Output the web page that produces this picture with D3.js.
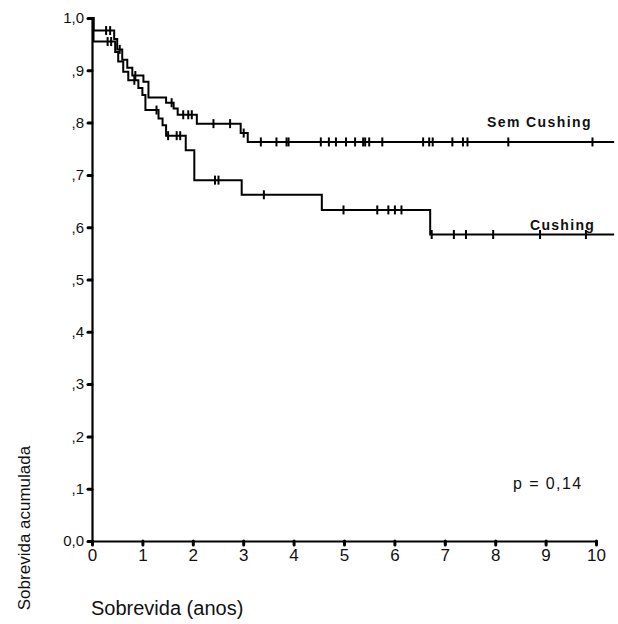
<!DOCTYPE html>
<html>
<head>
<meta charset="utf-8">
<script src="https://cdn.jsdelivr.net/npm/d3@7"></script>
<style>
  html, body { margin: 0; padding: 0; background: #fff; }
  svg { display: block; font-family: Arial, "Liberation Sans", sans-serif; }
</style>
</head>
<body>
<svg id="chart" width="618" height="624"></svg>
<script>
// ---- data ----
const xTickValues = [0, 1, 2, 3, 4, 5, 6, 7, 8, 9, 10];
const xTickLabels = ["0", "1", "2", "3", "4", "5", "6", "7", "8", "9", "10"];
const yTickValues = [0, 0.1, 0.2, 0.3, 0.4, 0.5, 0.6, 0.7, 0.8, 0.9, 1.0];
const yTickLabels = ["0,0", ",1", ",2", ",3", ",4", ",5", ",6", ",7", ",8", ",9", "1,0"];

const followUpEnd = 10.36;

// Cushing group: step times (years) and cumulative survival after each step
const cushingTimes = [0, 0.03, 0.46, 0.52, 0.62, 0.72, 0.92, 1.00, 1.06, 1.32, 1.40, 1.47, 1.86, 2.03, 2.97, 4.56, 6.71];
const cushingSurv  = [1.0, 0.955, 0.935, 0.917, 0.897, 0.881, 0.866, 0.853, 0.824, 0.808, 0.795, 0.775, 0.747, 0.690, 0.662, 0.633, 0.586];
const cushingCensor = [0.31, 0.38, 0.84, 1.28, 1.51, 1.68, 1.75, 2.44, 2.51, 3.41, 4.99, 5.66, 5.88, 6.01, 6.14, 6.74, 7.18, 7.42, 7.96, 8.89, 9.80];

// Sem Cushing group
const semTimes = [0, 0.03, 0.44, 0.50, 0.60, 0.70, 0.80, 1.02, 1.12, 1.47, 1.62, 1.70, 2.08, 2.95, 3.09];
const semSurv  = [1.0, 0.976, 0.960, 0.940, 0.920, 0.905, 0.890, 0.878, 0.848, 0.838, 0.827, 0.815, 0.798, 0.780, 0.763];
const semCensor = [0.28, 0.36, 0.55, 0.86, 1.58, 1.81, 1.91, 1.98, 2.41, 2.74, 3.01, 3.35, 3.66, 3.86, 3.90, 4.54, 4.70, 4.84, 5.04, 5.22, 5.38, 5.42, 5.50, 5.76, 6.57, 6.69, 6.76, 7.15, 7.36, 7.45, 8.26, 9.93];

const groupLabels = ["Sem Cushing", "Cushing"];
const pValueText = "p = 0,14";
const xTitle = "Sobrevida (anos)";
const yTitle = "Sobrevida acumulada";

// ---- layout ----
const svg = d3.select("#chart");
const x = d3.scaleLinear().domain([0, 10]).range([92, 596]);
const y = d3.scaleLinear().domain([0, 1]).range([541, 18]);

// axes
const xAxis = d3.axisBottom(x)
  .tickValues(xTickValues)
  .tickFormat((d, i) => xTickLabels[i])
  .tickSize(4).tickSizeOuter(0).tickPadding(4);
const yAxis = d3.axisLeft(y)
  .tickValues(yTickValues)
  .tickFormat((d, i) => yTickLabels[i])
  .tickSize(4).tickSizeOuter(0).tickPadding(4);

const gx = svg.append("g").attr("transform", `translate(0,${y(0)})`).call(xAxis);
const gy = svg.append("g").attr("transform", `translate(${x(0)},0)`).call(yAxis);

[gx, gy].forEach(g => {
  g.select(".domain").attr("stroke", "#000").attr("stroke-width", 2.2);
  g.selectAll(".tick line").attr("stroke", "#000").attr("stroke-width", 3).attr("stroke-linecap", "round");
  g.selectAll(".tick text").attr("fill", "#111").style("font-family", "Arial, 'Liberation Sans', sans-serif");
});
gx.selectAll(".tick text").style("font-size", "17px");
gy.selectAll(".tick text").style("font-size", "15px");

// survival curves
function buildPoints(times, surv) {
  const pts = times.map((t, i) => [t, surv[i]]);
  pts.push([followUpEnd, surv[surv.length - 1]]);
  return pts;
}
function survAt(times, surv, t) {
  let s = surv[0];
  for (let i = 0; i < times.length; i++) if (times[i] <= t) s = surv[i];
  return s;
}
const line = d3.line().x(d => x(d[0])).y(d => y(d[1])).curve(d3.curveStepAfter);

const groups = [
  { times: semTimes, surv: semSurv, censor: semCensor },
  { times: cushingTimes, surv: cushingSurv, censor: cushingCensor }
];

groups.forEach(gr => {
  svg.append("path")
    .datum(buildPoints(gr.times, gr.surv))
    .attr("d", line)
    .attr("fill", "none")
    .attr("stroke", "#000")
    .attr("stroke-width", 2);
  svg.append("g").selectAll("line")
    .data(gr.censor)
    .join("line")
    .attr("x1", d => x(d)).attr("x2", d => x(d))
    .attr("y1", d => y(survAt(gr.times, gr.surv, d)) - 4.5)
    .attr("y2", d => y(survAt(gr.times, gr.surv, d)) + 4.5)
    .attr("stroke", "#000")
    .attr("stroke-width", 2);
});

// labels
svg.append("text").attr("x", 487).attr("y", 127)
  .style("font-size", "14px").style("font-weight", "bold").style("letter-spacing", "1.4px")
  .attr("fill", "#111").text(groupLabels[0]);
svg.append("text").attr("x", 530).attr("y", 230)
  .style("font-size", "14px").style("font-weight", "bold").style("letter-spacing", "1.3px")
  .attr("fill", "#111").text(groupLabels[1]);
svg.append("text").attr("x", 513).attr("y", 489)
  .style("font-size", "16px").style("letter-spacing", "1.4px")
  .attr("fill", "#111").text(pValueText);

svg.append("text").attr("x", 91).attr("y", 615)
  .style("font-size", "20px").attr("fill", "#111").text(xTitle);
svg.append("text")
  .attr("transform", "translate(30,528) rotate(-90)")
  .attr("text-anchor", "middle")
  .style("font-size", "17px").attr("fill", "#111").text(yTitle);
</script>
</body>
</html>
